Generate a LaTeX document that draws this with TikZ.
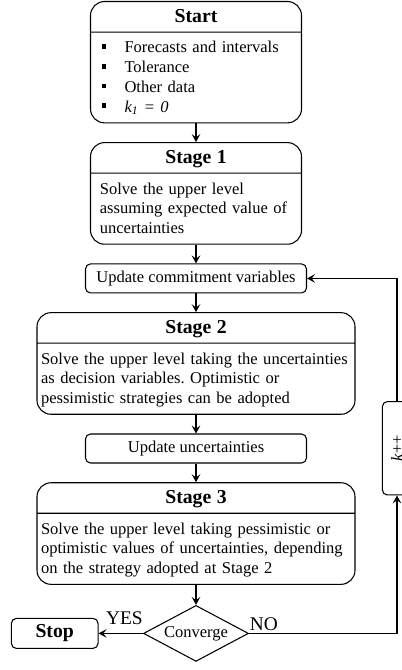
\documentclass[tikz,border=0pt]{standalone}
\usepackage{fontspec}
\setmainfont{Liberation Serif}
\usepackage{graphicx}
\usetikzlibrary{positioning,shapes.multipart,shapes.geometric,arrows.meta}

\frenchspacing
\newcommand{\bodyfont}{\fontsize{12.4pt}{14.8pt}\selectfont}
\newcommand{\titlefont}{\fontsize{14.8pt}{17pt}\selectfont\bfseries}
\newcommand{\labelfont}{\fontsize{14.5pt}{17pt}\selectfont}
\newcommand{\titlestrut}{\rule[-7pt]{0pt}{22.1pt}}
\newcommand{\firststrut}{\rule{0pt}{15.3pt}}
\newcommand{\laststrut}{\rule[-7.6pt]{0pt}{0pt}}
\newcommand{\sqitem}{\makebox[18.5pt][l]{\hspace{1.3pt}\rule[3.1pt]{3.6pt}{3.6pt}}}

\tikzset{
  stage box/.style={
    draw,
    rounded corners=10.5pt,
    rectangle split,
    rectangle split parts=2,
    text width=#1,
    inner xsep=3pt,
    inner ysep=0pt,
    align=left,
    font=\bodyfont,
  },
  update box/.style={
    draw,
    rounded corners=3.75pt,
    minimum width=165.75pt,
    minimum height=21.75pt,
    inner sep=0pt,
    font=\bodyfont,
  },
  stop box/.style={
    draw,
    rounded corners=3.75pt,
    minimum width=65pt,
    minimum height=22.5pt,
    inner sep=0pt,
    font=\titlefont,
  },
  count box/.style={
    draw,
    rounded corners=3.75pt,
    minimum width=22pt,
    minimum height=70pt,
    inner sep=0pt,
    font=\bodyfont,
  },
  decision/.style={
    draw,
    diamond,
    aspect=2,
    minimum width=78.75pt,
    minimum height=42pt,
    inner sep=0pt,
    font=\bodyfont,
  },
  flow/.style={
    -{Stealth[length=6pt,width=6.5pt,inset=2.5pt]},
  },
}

\begin{document}
\begin{tikzpicture}[line width=0.8pt, node distance=14pt]
    \useasboundingbox (0,0) rectangle (300.75pt,-502.5pt);

    \node [stage box=144.25pt, inner xsep=7pt, anchor=north] (start) at (147pt,-0.75pt)
        {{\centering\titlefont Start\titlestrut\par}
         \nodepart{two}\firststrut\sqitem Forecasts and intervals\\
         \sqitem Tolerance\\
         \sqitem Other data\\
         \sqitem \textit{k\textsubscript{1} = 0}\laststrut};
    \node [stage box=144.25pt, inner xsep=7pt, below=of start] (stage1)
        {{\centering\titlefont Stage 1\titlestrut\par}
         \nodepart{two}\firststrut Solve the upper level\\
         assuming expected value of\\
         uncertainties\laststrut};
    \node [update box, below=of stage1] (upd1) {Update commitment variables};
    \node [stage box=232.5pt, below=of upd1] (stage2)
        {{\centering\titlefont Stage 2\titlestrut\par}
         \nodepart{two}\firststrut Solve the upper level taking the uncertainties\\
         as decision variables. Optimistic or\\
         pessimistic strategies can be adopted\laststrut};
    \node [update box, below=of stage2] (upd2) {Update uncertainties};
    \node [stage box=232.5pt, below=of upd2] (stage3)
        {{\centering\titlefont Stage 3\titlestrut\par}
         \nodepart{two}\firststrut Solve the upper level taking pessimistic or\\
         optimistic values of uncertainties, depending\\
         on the strategy adopted at Stage 2\laststrut};
    \node [decision, below=15pt of stage3] (conv) {Converge};
    \node [stop box, left=33.3pt of conv] (stop) {Stop};
    \node [count box] (count) at (297.75pt,-336.2pt) {\rotatebox{90}{\textit{k}++}};

    \draw [flow] (start) -- (stage1);
    \draw [flow] (stage1) -- (upd1);
    \draw [flow] (upd1) -- (stage2);
    \draw [flow] (stage2) -- (upd2);
    \draw [flow] (upd2) -- (stage3);
    \draw [flow] (stage3) -- (conv);
    \draw [flow] (conv) -- node [pos=0.42, above=6pt, inner sep=0pt, font=\labelfont] (yes) {YES} (stop);
    \draw [flow] (conv) -| node [pos=0.05, above=2pt, inner sep=0pt, font=\labelfont] (no) {NO} (count);
    \draw [flow] (count) |- (upd1);
\end{tikzpicture}
\end{document}
